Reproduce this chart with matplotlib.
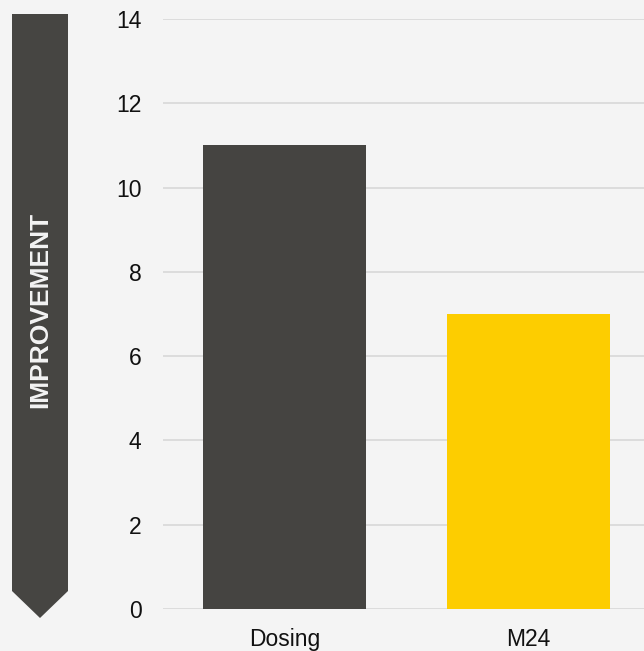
import matplotlib.pyplot as plt
from matplotlib.patches import Polygon

categories = ["Dosing", "M24"]
values = [11, 7]
bar_colors = ["#454441", "#fdcd00"]
y_ticks = [0, 2, 4, 6, 8, 10, 12, 14]
arrow_label = "IMPROVEMENT"

plt.rcParams['font.family'] = ['Liberation Sans', 'DejaVu Sans']

W, H = 644, 651
fig = plt.figure(figsize=(W / 100, H / 100), dpi=100, facecolor="#f4f4f4")
ax = fig.add_axes([163 / W, (H - 609) / H, 1 - 163 / W, (609 - 19) / H])
ax.set_facecolor("#f4f4f4")

x = list(range(len(categories)))
ax.bar(x, values, width=0.668, color=bar_colors, zorder=2)
ax.set_xlim(-0.498, 1.473)
ax.set_ylim(0, 14)
ax.set_yticks(y_ticks)
ax.set_xticks(x)
ax.set_xticklabels(categories)
ax.yaxis.grid(True, color="#dadada", linewidth=1.3, zorder=0)
ax.set_axisbelow(True)
for s in ax.spines.values():
    s.set_visible(False)
ax.tick_params(axis="both", length=0, labelsize=16.5, colors="#111111")
ax.tick_params(axis="y", pad=15.5)
ax.tick_params(axis="x", pad=14)

# arrow on the left, drawn in pixel coords of the figure
pts = [(12, 14), (68, 14), (68, 591), (40, 618), (12, 591)]
arrow = Polygon([(px / W, 1 - py / H) for px, py in pts], closed=True,
                transform=fig.transFigure, facecolor="#464542", edgecolor="none")
fig.patches.append(arrow)
fig.text(40 / W, 1 - 310 / H, arrow_label, rotation=90, ha="center", va="center",
         color="#f4f4f4", fontsize=19, fontweight="bold")

fig.savefig("out.png", dpi=100, facecolor=fig.get_facecolor())
